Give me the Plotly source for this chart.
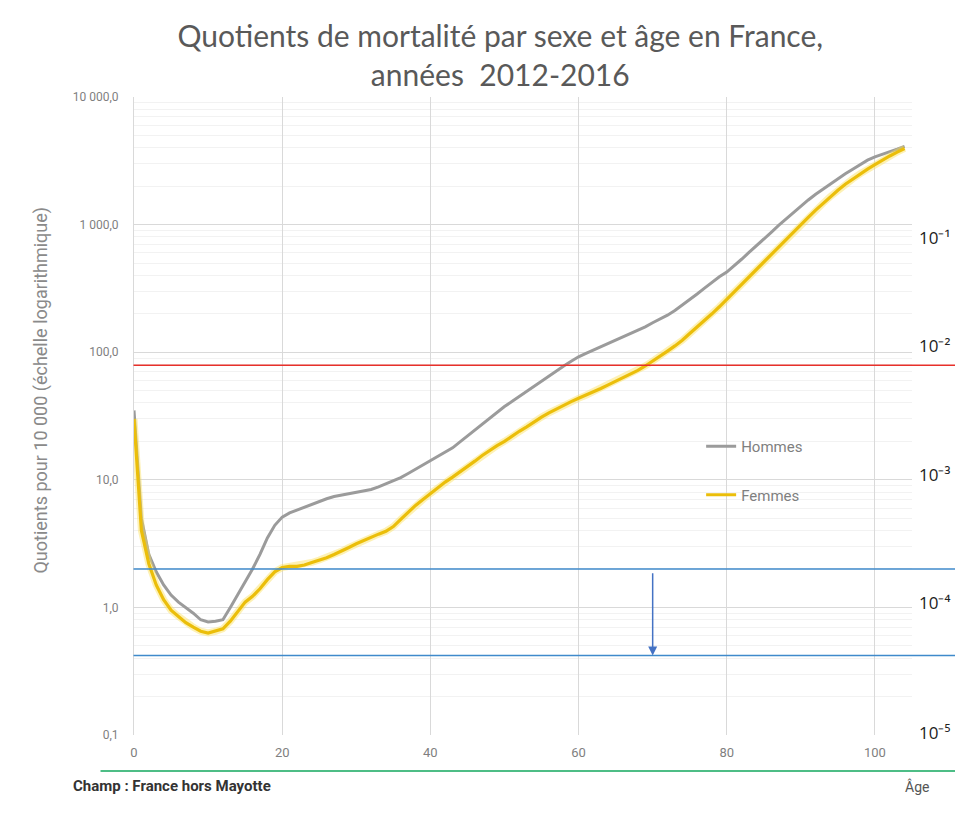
import plotly.graph_objects as go
import math

# ---------------- data ----------------
ages = list(range(0, 105))

hommes = [35, 5.0, 2.6, 1.9, 1.5, 1.25, 1.1, 1.0, 0.9, 0.8,
          0.77, 0.78, 0.8, 1.0, 1.25, 1.6, 2.0, 2.6, 3.5, 4.4,
          5.1, 5.5, 5.8, 6.1, 6.4, 6.8, 7.1, 7.4, 7.6, 7.8,
          8.0, 8.2, 8.4, 8.8, 9.3, 9.8, 10.4, 11.2, 12.1, 13.0,
          14.0, 15.2, 16.3, 17.8, 19.8, 22, 24.5, 27.5, 30.5, 34,
          37.5, 41, 45, 49.5, 54.5, 59, 65, 71, 78, 85,
          92, 98, 104, 111, 118, 125, 133, 141, 149, 158,
          170, 182, 195, 212, 233, 258, 286, 318, 353, 390,
          425, 475, 535, 605, 680, 770, 870, 985, 1110, 1250,
          1400, 1560, 1730, 1900, 2100, 2300, 2500, 2720, 2950, 3200,
          3400, 3550, 3700, 3900, 4100]

femmes = [30, 4.0, 2.2, 1.5, 1.15, 0.95, 0.85, 0.76, 0.7, 0.65,
          0.63, 0.65, 0.68, 0.78, 0.92, 1.1, 1.22, 1.4, 1.65, 1.9,
          2.05, 2.1, 2.1, 2.15, 2.25, 2.35, 2.45, 2.6, 2.75, 2.95,
          3.15, 3.35, 3.55, 3.75, 3.95, 4.3, 4.9, 5.6, 6.3, 7.0,
          7.8, 8.7, 9.6, 10.5, 11.5, 12.7, 14, 15.5, 17, 18.5,
          20, 22, 24, 26, 28.5, 31, 33.5, 36, 38.5, 41,
          43.5, 46, 49, 52, 55.5, 59, 63, 67.5, 72, 78,
          85, 93, 102, 112, 124, 140, 157, 177, 200, 227,
          260, 298, 342, 392, 450, 515, 590, 675, 770, 880,
          1000, 1140, 1300, 1470, 1660, 1860, 2070, 2280, 2500, 2720,
          2950, 3200, 3450, 3700, 3950]

x_ticks = [0, 20, 40, 60, 80, 100]
y_ticks = [0.1, 1, 10, 100, 1000, 10000]
right_labels = ["10⁻⁵", "10⁻⁴", "10⁻³", "10⁻²", "10⁻¹"]
right_label_shift = [3, 5, 5, 7, -13]

red_level = 79
blue_levels = [2.0, 0.42]
arrow_age = 70
arrow_from = 1.9
arrow_to = 0.42

title_text = "Quotients de mortalité par sexe et âge en France,<br>années  2012-2016"
y_title = "Quotients pour 10 000 (échelle logarithmique)"

# ---------------- geometry (screen px; page body has an 8px margin) ----------------
OX, OY = 8, 8
W, H = 963 - OX, 827 - OY
P_LEFT, P_RIGHT, P_TOP, P_BOTTOM = 133.5, 912, 97, 735
ml = P_LEFT - OX
mr = W - (P_RIGHT - OX)
mt = P_TOP - OY
mb = H - (P_BOTTOM - OY)
plot_w = P_RIGHT - P_LEFT
plot_h = P_BOTTOM - P_TOP


def sx(px):
    return (px - P_LEFT) / plot_w


def sy(py):
    return (P_BOTTOM - py) / plot_h


LABEL_FONT = "Liberation Sans Narrow, Roboto, Arial"

fig = go.Figure()

fig.add_trace(go.Scatter(x=ages, y=hommes, mode="lines", name="Hommes",
                         line=dict(color="#9b9b9b", width=3),
                         legendgroup="h"))
# soft halo under the Femmes curve
fig.add_trace(go.Scatter(x=ages, y=femmes, mode="lines", name="Femmes",
                         line=dict(color="rgba(250,225,90,0.45)", width=7),
                         legendgroup="f", showlegend=False, hoverinfo="skip"))
fig.add_trace(go.Scatter(x=ages, y=femmes, mode="lines", name="Femmes",
                         line=dict(color="#EBBE0A", width=3.2),
                         legendgroup="f"))

# reference lines (shape y on a log axis is given in data units)
shapes = []
shapes.append(dict(type="line", xref="paper", yref="y",
                   x0=sx(133), x1=sx(975), y0=red_level, y1=red_level,
                   line=dict(color="#E8302A", width=1.5)))
for b in blue_levels:
    shapes.append(dict(type="line", xref="paper", yref="y",
                       x0=sx(133), x1=sx(975), y0=b, y1=b,
                       line=dict(color="#3F8ACB", width=1.5)))
shapes.append(dict(type="line", xref="paper", yref="paper",
                   x0=sx(100), x1=sx(975), y0=sy(771), y1=sy(771),
                   line=dict(color="#4DBD86", width=2)))
fig.update_layout(shapes=shapes)

annotations = []
# arrow (annotation coordinates on a log axis are log10 values)
annotations.append(dict(x=arrow_age, y=math.log10(arrow_to), xref="x", yref="y",
                        ax=arrow_age, ay=math.log10(arrow_from), axref="x", ayref="y",
                        showarrow=True, arrowhead=2, arrowsize=1.2, arrowwidth=1.5,
                        arrowcolor="#4472C4", text=""))
# right-hand labels
for v, lab, s in zip(y_ticks[:5], right_labels, right_label_shift):
    annotations.append(dict(x=sx(917), y=math.log10(v), xref="paper", yref="y",
                            text=lab, showarrow=False, xanchor="left", yanchor="middle",
                            yshift=s,
                            font=dict(family="Open Sans, Arial", size=17, color="#222222")))
# y-axis title
annotations.append(dict(x=sx(40), y=sy(390), xref="paper", yref="paper",
                        text=y_title, textangle=-90, showarrow=False,
                        xanchor="center", yanchor="middle",
                        font=dict(family=LABEL_FONT, size=18, color="#8a8a8a")))
# footer texts
annotations.append(dict(x=sx(70), y=sy(786), xref="paper", yref="paper",
                        text="<b>Champ : France hors Mayotte</b>", showarrow=False,
                        xanchor="left", yanchor="middle",
                        font=dict(family=LABEL_FONT, size=15, color="#333333")))
annotations.append(dict(x=sx(903), y=sy(786), xref="paper", yref="paper",
                        text="Âge", showarrow=False, xanchor="left", yanchor="middle",
                        font=dict(family=LABEL_FONT, size=14, color="#555555")))
fig.update_layout(annotations=annotations)

fig.update_layout(
    width=W, height=H,
    margin=dict(l=ml, r=mr, t=mt, b=mb),
    paper_bgcolor="white", plot_bgcolor="white",
    separators=", ",
    title=dict(text=title_text, x=sx(500), xref="paper", xanchor="center",
               y=1 - (47 - OY) / H, yref="container", yanchor="middle",
               font=dict(family="Lato, Open Sans", size=30, color="#595959")),
    legend=dict(x=sx(701), y=sy(430), xanchor="left", yanchor="top",
                bgcolor="rgba(0,0,0,0)", tracegroupgap=26, traceorder="grouped",
                font=dict(family=LABEL_FONT, size=15, color="#7f7f7f")),
    xaxis=dict(range=[0, 105], tickvals=x_ticks, showgrid=True, gridcolor="#d9d9d9",
               gridwidth=1, zeroline=False, showline=False, ticks="",
               ticklabelstandoff=8, automargin=False,
               tickfont=dict(family=LABEL_FONT, size=13, color="#7f7f7f")),
    yaxis=dict(type="log", range=[-1, 4], tickvals=y_ticks, tickformat=",.1f",
               showgrid=True, gridcolor="#d9d9d9", gridwidth=1, zeroline=False,
               showline=True, linecolor="#d9d9d9", ticks="", ticklabelstandoff=12,
               automargin=False,
               tickfont=dict(family=LABEL_FONT, size=12, color="#7f7f7f"),
               minor=dict(showgrid=True, gridcolor="#f2f2f2", dtick="D1")),
)

fig.write_html("out.html")
